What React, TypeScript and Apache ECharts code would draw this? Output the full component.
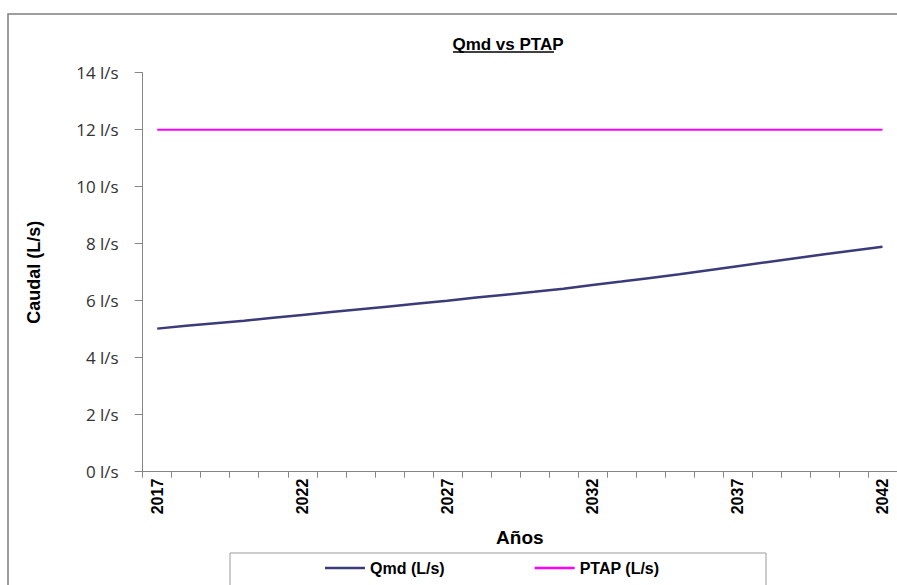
import React, { useEffect, useRef } from "react";
import * as echarts from "echarts";

const years = [
  "2017", "2018", "2019", "2020", "2021", "2022", "2023", "2024", "2025",
  "2026", "2027", "2028", "2029", "2030", "2031", "2032", "2033", "2034",
  "2035", "2036", "2037", "2038", "2039", "2040", "2041", "2042",
];
const qmd = [
  5.02, 5.12, 5.21, 5.3, 5.4, 5.5, 5.6, 5.7, 5.8, 5.9, 6.0, 6.11, 6.21,
  6.31, 6.42, 6.55, 6.67, 6.8, 6.93, 7.07, 7.21, 7.35, 7.49, 7.63, 7.76, 7.89,
];
const ptap = [
  12, 12, 12, 12, 12, 12, 12, 12, 12, 12, 12, 12, 12, 12, 12, 12, 12, 12, 12,
  12, 12, 12, 12, 12, 12, 12,
];
const seriesNames = ["Qmd (L/s)", "PTAP (L/s)"];
const titleText = "Qmd vs PTAP";
const yAxisName = "Caudal (L/s)";
const xAxisName = "Años";

const SANS = '"Liberation Sans", Arial, sans-serif';

export default function App() {
  const ref = useRef<HTMLDivElement>(null);
  useEffect(() => {
    if (!ref.current) return;
    const chart = echarts.init(ref.current, undefined, { renderer: "svg" });
    chart.setOption({
      animation: false,
      backgroundColor: "#ffffff",
      title: {
        text: titleText,
        left: 503,
        top: 31,
        textAlign: "center",
        textStyle: { fontFamily: SANS, fontWeight: "bold", fontSize: 17, color: "#000" },
      },
      graphic: [
        { type: "rect", shape: { x: 8, y: 14, width: 1000, height: 1000 }, style: { fill: "none", stroke: "#7f7f7f", lineWidth: 1.5 }, silent: true },
        { type: "line", shape: { x1: 453, y1: 52, x2: 554, y2: 52 }, style: { stroke: "#000", lineWidth: 1.5 }, silent: true },
        { type: "rect", shape: { x: 230, y: 553, width: 536, height: 60 }, style: { fill: "none", stroke: "#9a9a9a", lineWidth: 1 }, silent: true },
      ],
      legend: {
        data: seriesNames.map((n) => ({ name: n, icon: "rect" })),
        left: 320,
        top: 555,
        itemWidth: 40,
        itemHeight: 2.5,
        itemGap: 90,
        textStyle: { fontFamily: SANS, fontWeight: "bold", fontSize: 16, color: "#000" },
      },
      grid: { left: 142.7, right: 0, top: 72.7, bottom: 113.3, containLabel: false },
      xAxis: {
        type: "category",
        data: years,
        boundaryGap: true,
        name: xAxisName,
        nameLocation: "middle",
        nameGap: 56,
        nameTextStyle: { fontFamily: SANS, fontWeight: "bold", fontSize: 19, color: "#000" },
        axisLine: { lineStyle: { color: "#868686", width: 1 } },
        axisTick: { show: true, interval: 0, length: 6, lineStyle: { color: "#868686" } },
        axisLabel: {
          interval: 4,
          rotate: 90,
          margin: 7,
          fontFamily: SANS,
          fontWeight: "bold",
          fontSize: 16,
          color: "#000",
        },
        splitLine: { show: false },
      },
      yAxis: {
        type: "value",
        min: 0,
        max: 14,
        interval: 2,
        name: yAxisName,
        nameLocation: "middle",
        nameGap: 100,
        nameTextStyle: { fontFamily: SANS, fontWeight: "bold", fontSize: 18, color: "#000" },
        axisLine: { show: true, lineStyle: { color: "#868686", width: 1 } },
        axisTick: { show: true, length: 8, lineStyle: { color: "#868686" } },
        axisLabel: {
          formatter: (v: number) => `${v} l/s`,
          margin: 24,
          fontFamily: '"Open Sans", sans-serif',
          fontSize: 17,
          color: "#333333",
        },
        splitLine: { show: false },
      },
      series: [
        {
          name: seriesNames[0],
          type: "line",
          data: qmd,
          symbol: "none",
          lineStyle: { color: "#3b3b7a", width: 2.5 },
          itemStyle: { color: "#3b3b7a" },
        },
        {
          name: seriesNames[1],
          type: "line",
          data: ptap,
          symbol: "none",
          lineStyle: { color: "#ff00ff", width: 2 },
          itemStyle: { color: "#ff00ff" },
        },
      ],
    });
    return () => chart.dispose();
  }, []);
  return (
    <div
      ref={ref}
      style={{ position: "fixed", left: 0, top: 0, width: 897, height: 585, overflow: "hidden" }}
    />
  );
}
